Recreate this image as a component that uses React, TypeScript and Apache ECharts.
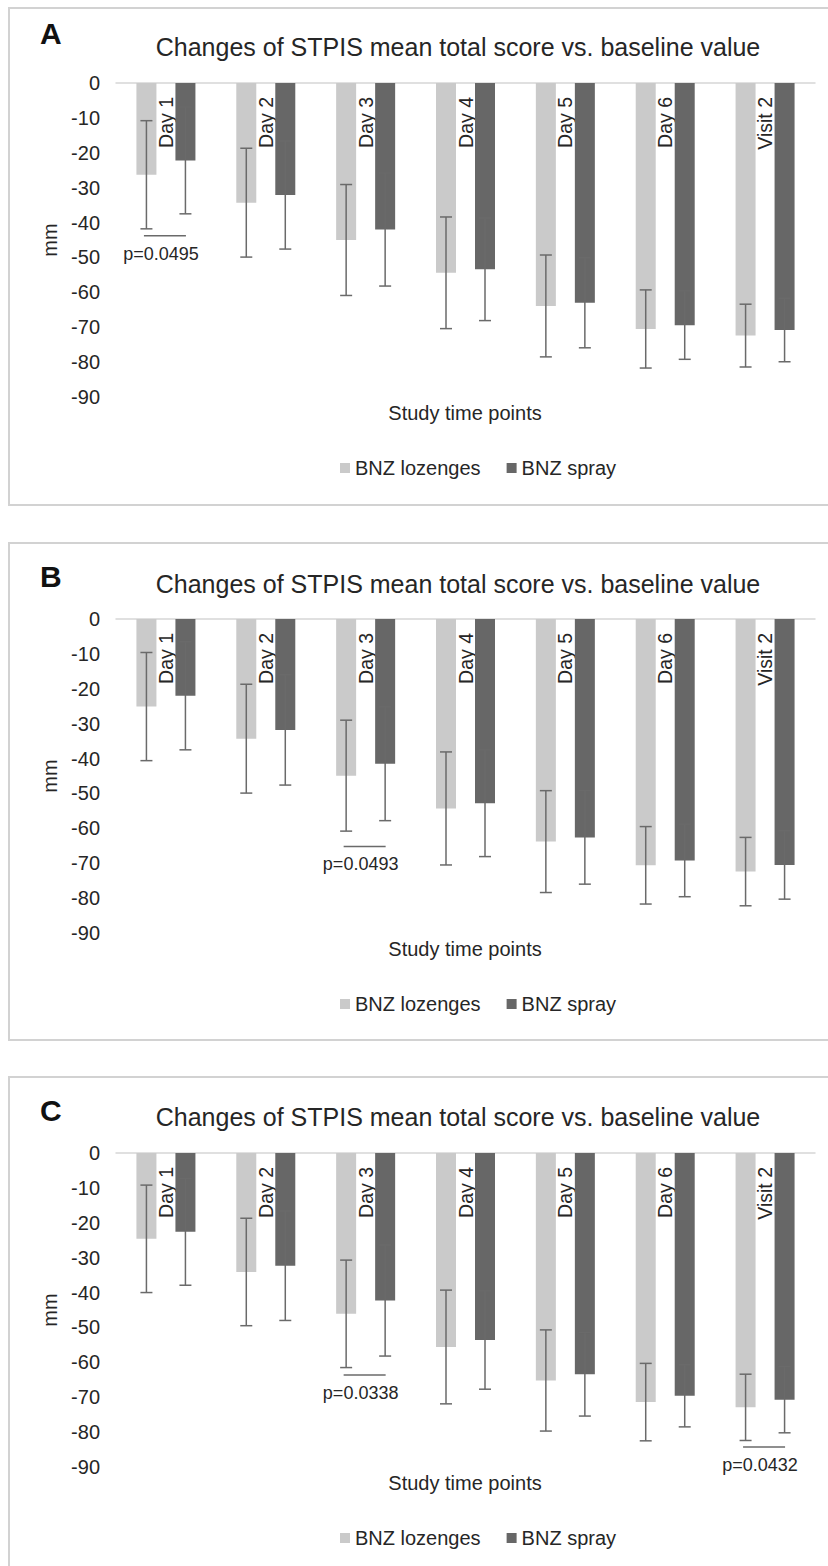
import React, { useEffect, useRef } from "react";
import * as echarts from "echarts";

const categories = ["Day 1", "Day 2", "Day 3", "Day 4", "Day 5", "Day 6", "Visit 2"];
const seriesNames = ["BNZ lozenges", "BNZ spray"];
const chartTitle = "Changes of STPIS mean total score vs. baseline value";
const yAxisName = "mm";
const xAxisName = "Study time points";

// Panel A
const lozMeanA = [-26.3, -34.3, -45.0, -54.4, -63.9, -70.5, -72.4];
const lozSdA = [15.5, 15.6, 15.9, 16.0, 14.6, 11.2, 9.0];
const sprMeanA = [-22.2, -32.1, -42.0, -53.4, -63.0, -69.4, -70.8];
const sprSdA = [15.3, 15.5, 16.2, 14.7, 12.9, 9.8, 9.1];
const annA = [{ cat: 0, value: -43.8, text: "p=0.0495" }];

// Panel B
const lozMeanB = [-25.1, -34.3, -44.9, -54.3, -63.8, -70.6, -72.4];
const lozSdB = [15.5, 15.6, 15.9, 16.2, 14.6, 11.1, 9.8];
const sprMeanB = [-22.0, -31.8, -41.5, -52.8, -62.6, -69.2, -70.5];
const sprSdB = [15.5, 15.8, 16.3, 15.3, 13.4, 10.4, 9.8];
const annB = [{ cat: 2, value: -65.2, text: "p=0.0493" }];

// Panel C
const lozMeanC = [-24.6, -34.1, -46.1, -55.6, -65.2, -71.4, -72.9];
const lozSdC = [15.4, 15.4, 15.4, 16.3, 14.5, 11.1, 9.5];
const sprMeanC = [-22.6, -32.3, -42.3, -53.6, -63.4, -69.6, -70.7];
const sprSdC = [15.3, 15.7, 15.9, 14.1, 12.0, 8.9, 9.5];
const annC = [
  { cat: 2, value: -63.6, text: "p=0.0338" },
  { cat: 6, value: -84.3, text: "p=0.0432" },
];

const panels = [
  { letter: "A", boxTop: 8, gridTop: 83, letterDy: -50, titleDy: -36, loz: lozMeanA, lozSd: lozSdA, spr: sprMeanA, sprSd: sprSdA, ann: annA },
  { letter: "B", boxTop: 543, gridTop: 619, letterDy: -43, titleDy: -35, loz: lozMeanB, lozSd: lozSdB, spr: sprMeanB, sprSd: sprSdB, ann: annB },
  { letter: "C", boxTop: 1077, gridTop: 1153, letterDy: -43, titleDy: -36, loz: lozMeanC, lozSd: lozSdC, spr: sprMeanC, sprSd: sprSdC, ann: annC },
];

const FONT = "Liberation Sans, Arial, Helvetica, sans-serif";
const TEXT = "#262626";
const LIGHT = "#cacaca";
const DARK = "#676767";
const ERR = "#6a6a6a";
const GRID_LEFT = 116;
const GRID_W = 699;
const GRID_H = 314;
const BAR_OFFSET = 19.5;

function errorRender(offset: number) {
  return (params: any, api: any) => {
    const idx = api.value(0);
    const mean = api.value(1);
    const sd = api.value(2);
    const top = api.coord([idx, mean + sd]);
    const bot = api.coord([idx, mean - sd]);
    const x = top[0] + offset;
    const st = { stroke: ERR, lineWidth: 1.5 };
    return {
      type: "group",
      children: [
        { type: "line", shape: { x1: x, y1: top[1], x2: x, y2: bot[1] }, style: st },
        { type: "line", shape: { x1: x - 6, y1: top[1], x2: x + 6, y2: top[1] }, style: st },
        { type: "line", shape: { x1: x - 6, y1: bot[1], x2: x + 6, y2: bot[1] }, style: st },
      ],
    };
  };
}

export default function App() {
  const ref = useRef<HTMLDivElement>(null);
  useEffect(() => {
    if (!ref.current) return;
    const chart = echarts.init(ref.current, undefined, { renderer: "svg" });

    const grid: any[] = [];
    const xAxis: any[] = [];
    const yAxis: any[] = [];
    const legend: any[] = [];
    const series: any[] = [];
    const graphic: any[] = [];

    panels.forEach((p, i) => {
      grid.push({ left: GRID_LEFT, top: p.gridTop, width: GRID_W, height: GRID_H });
      xAxis.push({
        type: "category",
        gridIndex: i,
        position: "top",
        data: categories,
        axisLine: { show: true, lineStyle: { color: "#d6d6d6", width: 1.5 } },
        axisTick: { show: false },
        splitLine: { show: false },
        axisLabel: {
          inside: true,
          rotate: 90,
          interval: 0,
          margin: 14,
          color: TEXT,
          fontSize: 19.5,
          fontFamily: FONT,
        },
      });
      yAxis.push({
        type: "value",
        gridIndex: i,
        min: -90,
        max: 0,
        interval: 10,
        name: yAxisName,
        nameLocation: "middle",
        nameGap: 53,
        nameTextStyle: { color: TEXT, fontSize: 20, fontFamily: FONT },
        axisLine: { show: false },
        axisTick: { show: false },
        splitLine: { show: false },
        axisLabel: { color: TEXT, fontSize: 20, fontFamily: FONT, margin: 16 },
      });
      legend.push({
        data: seriesNames,
        left: 340,
        top: p.gridTop + 375,
        padding: 0,
        itemWidth: 10,
        itemHeight: 10,
        itemGap: 26,
        icon: "rect",
        selectedMode: false,
        textStyle: { color: TEXT, fontSize: 20, fontFamily: FONT },
      });
      series.push({
        name: seriesNames[0],
        type: "bar",
        xAxisIndex: i,
        yAxisIndex: i,
        data: p.loz,
        barWidth: 20,
        barGap: "95%",
        itemStyle: { color: LIGHT },
      });
      series.push({
        name: seriesNames[1],
        type: "bar",
        xAxisIndex: i,
        yAxisIndex: i,
        data: p.spr,
        barWidth: 20,
        barGap: "95%",
        itemStyle: { color: DARK },
      });
      series.push({
        type: "custom",
        xAxisIndex: i,
        yAxisIndex: i,
        z: 5,
        silent: true,
        encode: { x: 0, y: 1 },
        data: p.loz.map((m, k) => [k, m, p.lozSd[k]]),
        renderItem: errorRender(-BAR_OFFSET),
      });
      series.push({
        type: "custom",
        xAxisIndex: i,
        yAxisIndex: i,
        z: 5,
        silent: true,
        encode: { x: 0, y: 1 },
        data: p.spr.map((m, k) => [k, m, p.sprSd[k]]),
        renderItem: errorRender(BAR_OFFSET),
      });
      const ann = p.ann;
      series.push({
        type: "custom",
        xAxisIndex: i,
        yAxisIndex: i,
        z: 6,
        silent: true,
        encode: { x: 0, y: 1 },
        data: ann.map((a) => [a.cat, a.value]),
        renderItem: (params: any, api: any) => {
          const pt = api.coord([api.value(0), api.value(1)]);
          return {
            type: "group",
            children: [
              { type: "line", shape: { x1: pt[0] - 22, y1: pt[1], x2: pt[0] + 20, y2: pt[1] }, style: { stroke: ERR, lineWidth: 1.5 } },
              {
                type: "text",
                x: pt[0] - 5,
                y: pt[1] + 18,
                style: {
                  text: ann[params.dataIndex].text,
                  fill: TEXT,
                  fontSize: 18,
                  fontFamily: FONT,
                  align: "center",
                  verticalAlign: "middle",
                  textAlign: "center",
                  textVerticalAlign: "middle",
                },
              },
            ],
          };
        },
      });

      graphic.push({
        type: "rect",
        shape: { x: 9, y: p.boxTop, width: 840, height: 497 },
        style: { fill: "none", stroke: "#d2d2d2", lineWidth: 2 },
        z: -1,
      });
      graphic.push({
        type: "text",
        x: 40,
        y: p.gridTop + p.letterDy,
        style: {
          text: p.letter,
          fill: "#111",
          fontSize: 30,
          fontWeight: "bold",
          fontFamily: FONT,
          textAlign: "left",
          textVerticalAlign: "middle",
          align: "left",
          verticalAlign: "middle",
        },
      });
      graphic.push({
        type: "text",
        x: 458,
        y: p.gridTop + p.titleDy,
        style: {
          text: chartTitle,
          fill: TEXT,
          fontSize: 25,
          fontFamily: FONT,
          textAlign: "center",
          textVerticalAlign: "middle",
          align: "center",
          verticalAlign: "middle",
        },
      });
      graphic.push({
        type: "text",
        x: 465,
        y: p.gridTop + 330,
        style: {
          text: xAxisName,
          fill: TEXT,
          fontSize: 20,
          fontFamily: FONT,
          textAlign: "center",
          textVerticalAlign: "middle",
          align: "center",
          verticalAlign: "middle",
        },
      });
    });

    chart.setOption({
      animation: false,
      backgroundColor: "#ffffff",
      grid,
      xAxis,
      yAxis,
      legend,
      series,
      graphic,
    });
    return () => chart.dispose();
  }, []);
  return (
    <div
      ref={ref}
      style={{ position: "absolute", left: 0, top: 0, width: 828, height: 1566 }}
    />
  );
}
